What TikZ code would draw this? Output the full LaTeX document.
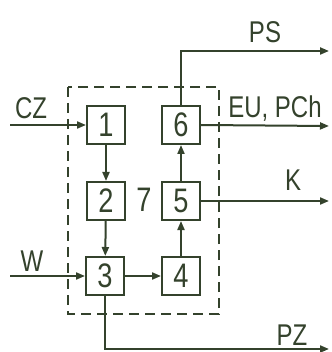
\documentclass[tikz,border=0pt]{standalone}
\usepackage{fontspec}
\setmainfont{Liberation Sans}[FakeStretch=0.8]
\usetikzlibrary{arrows.meta}
\definecolor{ink}{RGB}{52,66,44}
\begin{document}
\begin{tikzpicture}[x=1pt,y=-1pt,
  blk/.style={draw=ink, line width=2pt, minimum size=38pt, inner sep=0pt, text=ink, font=\fontsize{34}{34}\selectfont},
  lbl/.style={text=ink, inner sep=0pt, anchor=base, font=\fontsize{30}{30}\selectfont},
  conn/.style={draw=ink, line width=2pt, -{Triangle[length=9pt,width=7pt]}},
  frame/.style={draw=ink, line width=1.7pt, dash pattern=on 10pt off 6pt}]
\useasboundingbox[fill=white] (0,0) rectangle (331,352);
\draw[frame] (68,87) rectangle (219,314);
\node[blk] (b1) at (106,125) {1};
\node[blk] (b6) at (181,125) {6};
\node[blk] (b2) at (106,201) {2};
\node[blk] (b5) at (181,201) {5};
\node[blk] (b3) at (105,276) {3};
\node[blk] (b4) at (181,276) {4};
\node[text=ink, inner sep=0pt, font=\fontsize{34}{34}\selectfont] (n7) at (144,200) {7};
\coordinate (czin) at (10,125);
\coordinate (win) at (10,276);
\coordinate (psout) at (329,51);
\coordinate (euout) at (329,126);
\coordinate (kout) at (329,201);
\coordinate (pzout) at (329,349);
\draw[conn] (czin) -- (b1.west);
\draw[conn] (b1) -- (b2);
\draw[conn] (b2) -- (b3);
\draw[conn] (win) -- (b3.west);
\draw[conn] (b3) -- (b4);
\draw[conn] (b4) -- (b5);
\draw[conn] (b5) -- (b6);
\draw[conn] (b6.north) |- (psout);
\draw[conn] (b6.east) -- (euout);
\draw[conn] (b5.east) -- (kout);
\draw[conn] (b3.south) |- (pzout);
\node[lbl] (lcz) at (31,119) {CZ};
\node[lbl] (lw) at (32,271) {W};
\node[lbl] (lps) at (265,43) {PS};
\node[lbl] (leu) at (275,118) {EU, PCh};
\node[lbl] (lk) at (293,190) {K};
\node[lbl] (lpz) at (292,345) {PZ};
\end{tikzpicture}
\end{document}
